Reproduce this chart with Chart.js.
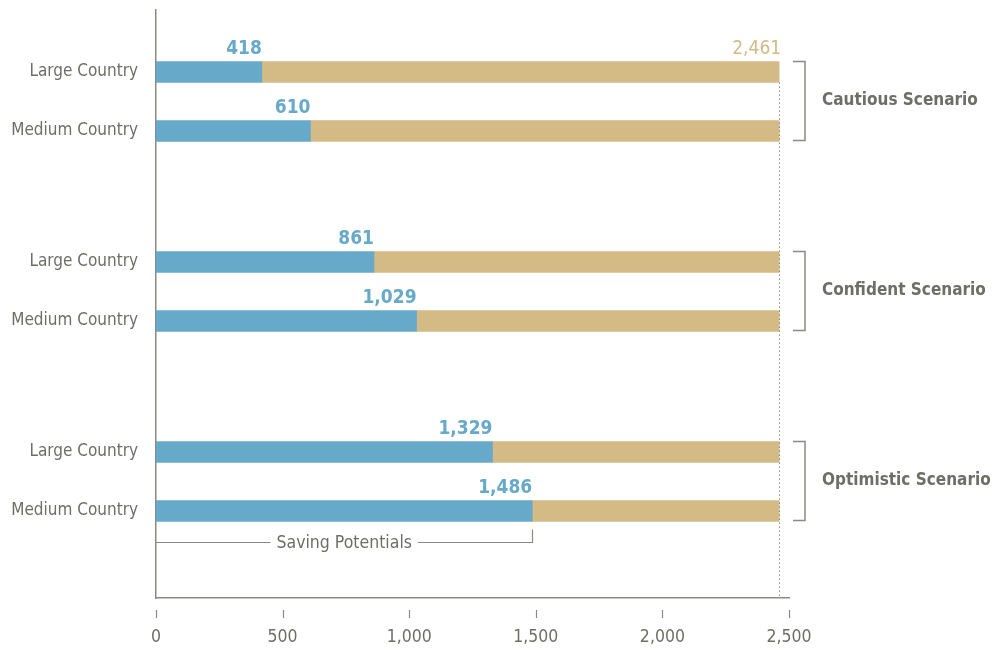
<!DOCTYPE html>
<html>
<head>
<meta charset="utf-8">
<script src="https://cdn.jsdelivr.net/npm/chart.js@4"></script>
<style>
  html, body { margin: 0; padding: 0; background: #fff; }
  #wrap { width: 1001px; height: 651px; position: relative; }
</style>
</head>
<body>
<div id="wrap"><canvas id="savings"></canvas></div>
<script>
'use strict';

// data
var scenarios = ['Cautious Scenario', 'Confident Scenario', 'Optimistic Scenario'];
var countries = ['Large Country', 'Medium Country'];
var savingValues = [418, 610, 861, 1029, 1329, 1486];
var totalValues = [2461, 2461, 2461, 2461, 2461, 2461];
var xTicks = [0, 500, 1000, 1500, 2000, 2500];

var FONT = '"DejaVu Sans Condensed", "Liberation Sans", sans-serif';
var BLUE = '#66a9c8';
var TAN = '#d4ba84';
var GREY = '#6e6e68';
var LINE = '#8a8a84';

// row position on the y scale: one unit per country, wider step between scenarios
var GROUP_STEP = 3.22;
var rowPos = [];
var rowLabels = [];
scenarios.forEach(function (s, g) {
    countries.forEach(function (c, r) {
        rowPos.push(g * GROUP_STEP + r);
        rowLabels.push(c);
    });
});

var blueData = savingValues.map(function (v, i) { return { x: v, y: rowPos[i] }; });
var tanData = totalValues.map(function (v, i) { return { x: v - savingValues[i], y: rowPos[i] }; });

var fmt = function (v) { return v.toLocaleString('en-US'); };

var decorations = {
    id: 'decorations',
    afterDraw: function (chart) {
        var ctx = chart.ctx;
        var xs = chart.scales.x;
        var ys = chart.scales.y;
        var area = chart.chartArea;
        var half = 10.5;
        ctx.save();

        // dotted line at total
        ctx.strokeStyle = '#8a8a84';
        ctx.lineWidth = 1;
        ctx.setLineDash([1.5, 2.5]);
        var xt = Math.round(xs.getPixelForValue(totalValues[0])) + 0.5;
        ctx.beginPath();
        ctx.moveTo(xt, ys.getPixelForValue(rowPos[0]) + half);
        ctx.lineTo(xt, area.bottom);
        ctx.stroke();
        ctx.setLineDash([]);

        // x tick marks, detached from the axis line
        ctx.strokeStyle = LINE;
        ctx.lineWidth = 1.2;
        xTicks.forEach(function (t) {
            var x = Math.round(xs.getPixelForValue(t)) + 0.5;
            ctx.beginPath();
            ctx.moveTo(x, area.bottom + 12);
            ctx.lineTo(x, area.bottom + 20);
            ctx.stroke();
        });

        // value labels
        var blueMeta = chart.getDatasetMeta(0);
        ctx.textAlign = 'right';
        ctx.textBaseline = 'alphabetic';
        ctx.font = 'bold 19px ' + FONT;
        ctx.fillStyle = BLUE;
        blueMeta.data.forEach(function (bar, i) {
            ctx.fillText(fmt(savingValues[i]), bar.x, bar.y - half - 7);
        });
        var tanMeta = chart.getDatasetMeta(1);
        ctx.font = '19px ' + FONT;
        ctx.fillStyle = TAN;
        ctx.fillText(fmt(totalValues[0]), tanMeta.data[0].x + 2, tanMeta.data[0].y - half - 7);

        // scenario brackets and labels
        ctx.strokeStyle = LINE;
        ctx.lineWidth = 1.5;
        var bx0 = area.right + 4, bx1 = area.right + 16;
        scenarios.forEach(function (s, g) {
            var yTop = Math.round(ys.getPixelForValue(rowPos[g * 2]) - half) + 0.5;
            var yBot = Math.round(ys.getPixelForValue(rowPos[g * 2 + 1]) + half) - 0.5;
            ctx.beginPath();
            ctx.moveTo(bx0, yTop);
            ctx.lineTo(bx1, yTop);
            ctx.lineTo(bx1, yBot);
            ctx.lineTo(bx0, yBot);
            ctx.stroke();
            ctx.font = 'bold 17px ' + FONT;
            ctx.fillStyle = GREY;
            ctx.textAlign = 'left';
            ctx.textBaseline = 'middle';
            ctx.fillText(s, bx1 + 17, (yTop + yBot) / 2);
        });

        // "Saving Potentials" bracket under the last bar
        var last = savingValues.length - 1;
        var xEnd = Math.round(xs.getPixelForValue(savingValues[last])) + 0.5;
        var yb = Math.round(ys.getPixelForValue(rowPos[last]) + half + 21) + 0.5;
        var label = 'Saving Potentials';
        ctx.font = '17.5px ' + FONT;
        ctx.textAlign = 'center';
        ctx.textBaseline = 'middle';
        var tx = (area.left + xEnd) / 2;
        var tw = ctx.measureText(label).width;
        ctx.lineWidth = 1.2;
        ctx.beginPath();
        ctx.moveTo(area.left, yb);
        ctx.lineTo(tx - tw / 2 - 6, yb);
        ctx.moveTo(tx + tw / 2 + 6, yb);
        ctx.lineTo(xEnd, yb);
        ctx.lineTo(xEnd, yb - 13);
        ctx.stroke();
        ctx.fillStyle = GREY;
        ctx.fillText(label, tx, yb + 1);

        ctx.restore();
    }
};

new Chart(document.getElementById('savings'), {
    type: 'bar',
    data: {
        datasets: [
            { data: blueData, backgroundColor: BLUE, barThickness: 21 },
            { data: tanData, backgroundColor: TAN, barThickness: 21 }
        ]
    },
    options: {
        indexAxis: 'y',
        responsive: true,
        maintainAspectRatio: false,
        animation: false,
        layout: { padding: { top: 10, right: 212, left: 0, bottom: 0 } },
        plugins: { legend: { display: false }, tooltip: { enabled: false } },
        scales: {
            x: {
                type: 'linear',
                stacked: true,
                min: 0,
                max: 2500,
                afterBuildTicks: function (axis) {
                    axis.ticks = xTicks.map(function (v) { return { value: v }; });
                },
                afterFit: function (axis) { axis.height = 53; },
                grid: { display: false, drawTicks: false },
                border: { display: true, color: LINE, width: 1.5 },
                ticks: {
                    padding: 29,
                    color: GREY,
                    font: { family: FONT, size: 17.5 },
                    callback: function (v) { return fmt(v); }
                }
            },
            y: {
                type: 'linear',
                stacked: true,
                reverse: true,
                offset: false,
                min: -1.05,
                max: 8.915,
                afterBuildTicks: function (axis) {
                    axis.ticks = rowPos.map(function (v) { return { value: v }; });
                },
                afterFit: function (axis) {
                    axis.width = 156;
                    axis.paddingTop = 0;
                    axis.paddingBottom = 0;
                },
                grid: { display: false, drawTicks: false },
                border: { display: true, color: LINE, width: 1.5 },
                ticks: {
                    padding: 18,
                    color: GREY,
                    font: { family: FONT, size: 17 },
                    callback: function (v, i) { return rowLabels[i]; }
                }
            }
        }
    },
    plugins: [decorations]
});
</script>
</body>
</html>
